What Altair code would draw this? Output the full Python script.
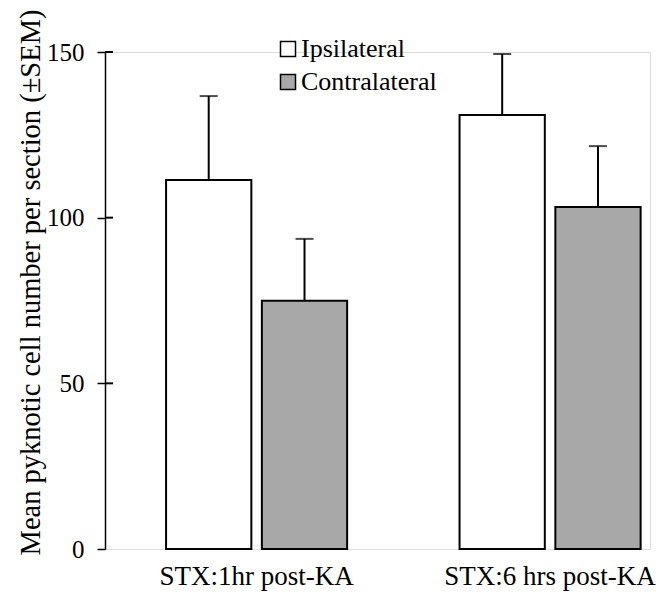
import altair as alt
import pandas as pd

groups = ["STX:1hr post-KA", "STX:6 hrs post-KA"]
sides = ["Ipsilateral", "Contralateral"]
means_1hr = [111.4, 74.9]
means_6hr = [131.0, 103.2]
sem_1hr = [25.3, 18.7]
sem_6hr = [18.4, 18.4]
y_ticks = [0, 50, 100, 150]
inner_ticks = [50, 100, 150]

rows = []
for g, means, sems in [(groups[0], means_1hr, sem_1hr), (groups[1], means_6hr, sem_6hr)]:
    for s, m, e in zip(sides, means, sems):
        rows.append({"group": g, "side": s, "mean": m, "upper": m + e})
df = pd.DataFrame(rows)
ticks_df = pd.DataFrame({"t": inner_ticks})

FONT = "Liberation Serif"

x_axis = alt.Axis(title=None, labelAngle=0, domain=False, ticks=False,
                  labelFont=FONT, labelFontSize=27, labelLimit=0, labelPadding=14)
y_axis = alt.Axis(title="Mean pyknotic cell number per section (±SEM)",
                  values=y_ticks, grid=False, domainWidth=1.5,
                  tickWidth=1.5, tickSize=8,
                  labelFont=FONT, labelFontSize=25, labelPadding=13,
                  titleFont=FONT, titleFontSize=28.5, titleAngle=-90, titleX=-75, titleY=230,
                  titleAlign="center", titleBaseline="middle")
x_scale = alt.Scale(paddingInner=0.383, paddingOuter=0.12, align=0.867)
xo_scale = alt.Scale(paddingInner=0.11, paddingOuter=0)
y_scale = alt.Scale(domain=[0, 150], nice=False)

x_enc = alt.X("group:N", sort=groups, scale=x_scale, axis=x_axis)
xo_enc = alt.XOffset("side:N", sort=sides, scale=xo_scale)

bars = alt.Chart(df).mark_bar(stroke="black", strokeWidth=2).encode(
    x=x_enc,
    xOffset=xo_enc,
    y=alt.Y("mean:Q", scale=y_scale, axis=y_axis),
    fill=alt.Fill("side:N", sort=sides,
                  scale=alt.Scale(domain=sides, range=["white", "#a8a8a8"]),
                  legend=alt.Legend(title=None, orient="none", legendX=170, legendY=-16,
                                    symbolType="square", symbolSize=225,
                                    symbolStrokeColor="black", symbolStrokeWidth=1.5,
                                    labelFont=FONT, labelFontSize=26, labelOffset=0,
                                    rowPadding=7, labelLimit=0)),
)

err = alt.Chart(df).mark_rule(color="black", strokeWidth=2).encode(
    x=x_enc, xOffset=xo_enc,
    y=alt.Y("mean:Q", scale=y_scale, axis=y_axis), y2="upper:Q",
)
caps = alt.Chart(df).mark_tick(color="black", size=18, thickness=2).encode(
    x=x_enc, xOffset=xo_enc,
    y=alt.Y("upper:Q", scale=y_scale, axis=y_axis),
)
inner = alt.Chart(ticks_df).mark_rule(color="black", strokeWidth=2).encode(
    y=alt.Y("t:Q", scale=y_scale, axis=y_axis),
    x=alt.value(0), x2=alt.value(8),
)

chart = alt.layer(bars, err, caps, inner).properties(
    width=545, height=497,
    padding={"left": 97, "top": 44, "right": 10, "bottom": 43},
    autosize=alt.AutoSizeParams(type="none"),
).configure_view(stroke=None).configure(
    background="white", font=FONT
).configure_axis(
    labelFont=FONT, titleFont=FONT, labelColor="black", titleColor="black",
    domainColor="black", tickColor="black", titleFontWeight="normal"
).configure_legend(
    labelFont=FONT, labelColor="black", labelFontSize=26
)

chart.save("out.html", embed_options={"renderer": "svg", "actions": False})
